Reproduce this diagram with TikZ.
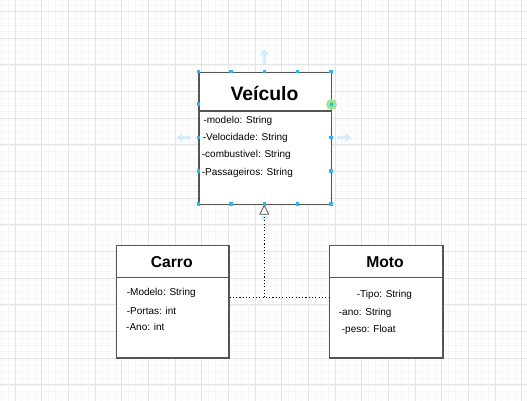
\documentclass[tikz,border=0pt]{standalone}
\usepackage{fontspec}
\setmainfont{Liberation Sans}
\usetikzlibrary{arrows.meta}
\definecolor{gridminor}{HTML}{F6F6F6}
\definecolor{gridmajor}{HTML}{E4E4E4}
\definecolor{boxline}{HTML}{555555}
\definecolor{handle}{HTML}{29B6F2}
\definecolor{hintarrow}{HTML}{D4ECFB}
\definecolor{greendot}{HTML}{8EE68A}
\tikzset{
  classbox/.style={draw=boxline, line width=1.2pt, fill=white},
  sepline/.style={draw=boxline, line width=1.1pt},
  bigtitle/.style={font=\fontsize{19.4}{22}\selectfont\bfseries, inner sep=0pt},
  midtitle/.style={font=\fontsize{15.7}{18}\selectfont\bfseries, inner sep=0pt},
  attr/.style={font=\fontsize{10}{12}\selectfont, inner sep=0pt, anchor=west},
  dotline/.style={draw=black, line width=0.9pt, dash pattern=on 1.1pt off 2.2pt},
  hdl/.style={fill=handle, draw=none},
  hint/.style={fill=hintarrow, draw=none},
}
\begin{document}
\begin{tikzpicture}[x=1pt,y=-1pt]
\useasboundingbox (0,0) rectangle (527,401);
\fill[white] (0,0) rectangle (527,401);
% grid
\foreach \i in {0,...,79} {
  \draw[gridminor, line width=0.5pt] ({1.67+\i*6.6667},0) -- ({1.67+\i*6.6667},401);
}
\foreach \i in {0,...,60} {
  \draw[gridminor, line width=0.5pt] (0,{4.83+\i*6.6667}) -- (527,{4.83+\i*6.6667});
}
\foreach \i in {0,...,19} {
  \draw[gridmajor, line width=0.7pt] ({15+\i*26.667},0) -- ({15+\i*26.667},401);
}
\foreach \i in {0,...,15} {
  \draw[gridmajor, line width=0.7pt] (0,{11.5+\i*26.667}) -- (527,{11.5+\i*26.667});
}
% hint arrows around selected shape
\fill[hint] (262.8,64) -- (262.8,55) -- (259.5,55) -- (264.3,49) -- (269.1,55) -- (265.8,55) -- (265.8,64) -- cycle;
\fill[hint] (190.7,136.2) -- (182.7,136.2) -- (182.7,133) -- (176.7,137.7) -- (182.7,142.4) -- (182.7,139.2) -- (190.7,139.2) -- cycle;
\fill[hint] (337,136.2) -- (345,136.2) -- (345,133) -- (351.5,137.7) -- (345,142.4) -- (345,139.2) -- (337,139.2) -- cycle;
\fill[hint] (261.5,216) rectangle (267,220);
% classes
\node[classbox, minimum width=132.7pt, minimum height=132.3pt, anchor=north west] (veiculo) at (198.3,71.7) {};
\node[classbox, minimum width=112.6pt, minimum height=112.3pt, anchor=north west] (carro) at (115.7,245) {};
\node[classbox, minimum width=113.6pt, minimum height=112.3pt, anchor=north west] (moto) at (328.7,245) {};
\draw[sepline] (veiculo.west |- 0,111) -- (veiculo.east |- 0,111);
\draw[sepline] (carro.west |- 0,277.7) -- (carro.east |- 0,277.7);
\draw[sepline] (moto.west |- 0,277.7) -- (moto.east |- 0,277.7);
% titles
\node[bigtitle] (tv) at (264.5,93.5) {Veículo};
\node[midtitle] (tc) at (171.7,262) {Carro};
\node[midtitle] (tm) at (385,262) {Moto};
% attributes
\node[attr] (v1) at (203.3,120.7) {-modelo: String};
\node[attr] (v2) at (202.7,137.7) {-Velocidade: String};
\node[attr] (v3) at (201.7,155) {-combustivel: String};
\node[attr] (v4) at (201.7,172.7) {-Passageiros: String};
\node[attr] (c1) at (126.7,293.3) {-Modelo: String};
\node[attr] (c2) at (126.7,310.7) {-Portas: int};
\node[attr] (c3) at (126,326.7) {-Ano: int};
\node[attr] (m1) at (356.7,295) {-Tipo: String};
\node[attr] (m2) at (338.7,312.7) {-ano: String};
\node[attr] (m3) at (341.7,330) {-peso: Float};
% connectors
\coordinate (j) at (264.3,297.3);
\draw[dotline] (carro.east |- j) -- (moto.west |- j);
\draw[dotline] (j) -- (264.3,214);
\draw[draw=boxline, line width=0.8pt, -{Triangle[open, length=10pt, width=10pt]}] (264.3,213.9) -- (264.3,204.6);
% selection handles
\foreach \x in {198.3,231,264.3,297.7,331} {
  \fill[hdl] (\x-1.6,71.7-1.6) rectangle (\x+1.6,71.7+1.6);
  \fill[hdl] (\x-1.6,204-1.6) rectangle (\x+1.6,204+1.6);
}
\foreach \y in {104,137.7,171} {
  \fill[hdl] (198.3-1.6,\y-1.6) rectangle (198.3+1.6,\y+1.6);
}
\foreach \y in {137.7,171} {
  \fill[hdl] (331-1.6,\y-1.6) rectangle (331+1.6,\y+1.6);
}
\fill[greendot, opacity=0.9] (331.5,104.5) circle (5.5pt);
\fill[hdl] (331.5-1.6,104.5-1.6) rectangle (331.5+1.6,104.5+1.6);
\end{tikzpicture}
\end{document}
